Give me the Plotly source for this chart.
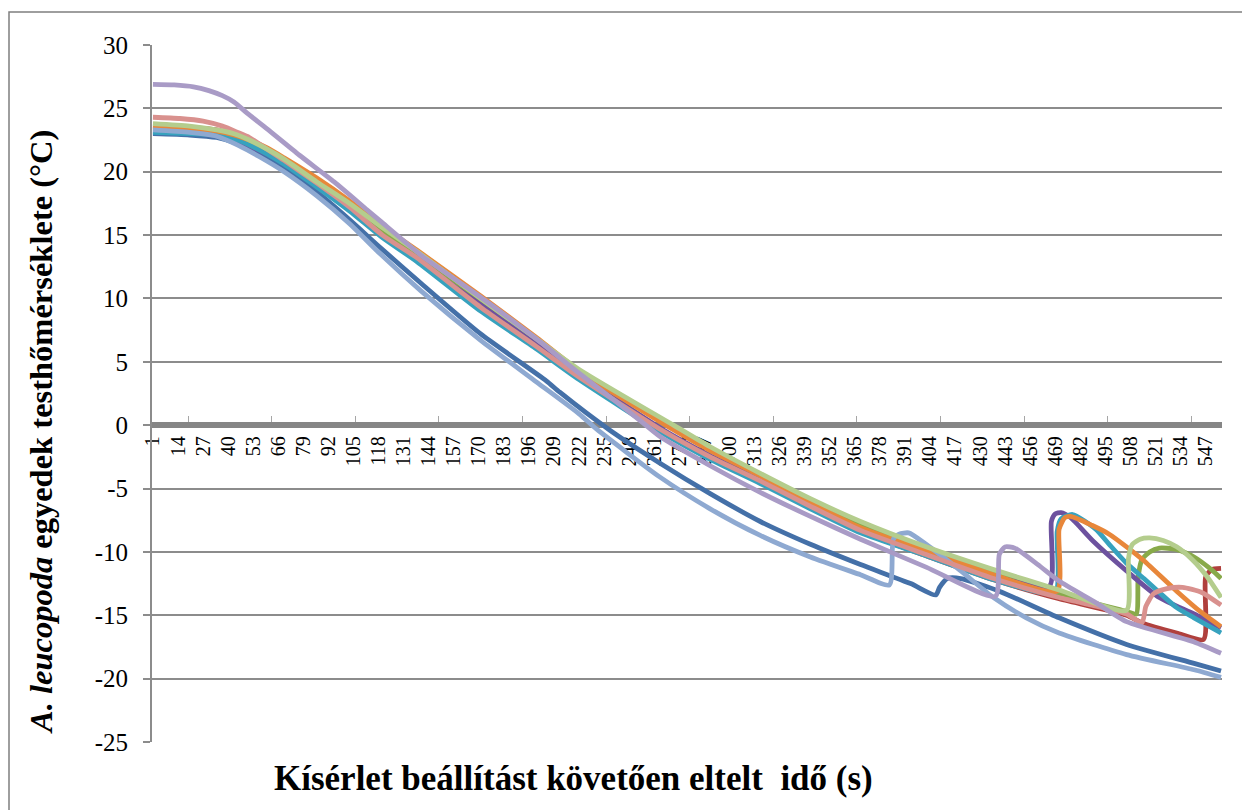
import plotly.graph_objects as go

# category index (s) and body temperature (°C) per individual
blue_x = [1, 20, 34, 45, 56, 69, 86, 103, 119, 140, 171, 205, 212, 238, 264, 290, 316, 342, 368, 394, 407, 409, 413, 420, 440, 471, 506, 541, 555]
blue_y = [23.0, 22.9, 22.7, 22.2, 21.4, 20.3, 18.4, 16.2, 14.0, 11.2, 7.2, 3.5, 2.6, -0.4, -3.0, -5.4, -7.6, -9.4, -11.0, -12.5, -13.4, -12.8, -12.1, -12.1, -13.1, -15.2, -17.3, -18.8, -19.4]

red_x = [1, 20, 34, 43, 51, 60, 69, 86, 103, 120, 138, 171, 200, 222, 265, 290, 316, 342, 368, 402, 437, 471, 506, 514, 532, 546, 547, 550, 555]
red_y = [23.6, 23.5, 23.3, 22.9, 22.4, 21.7, 20.8, 19.0, 17.1, 15.0, 13.1, 9.2, 6.1, 3.7, -0.5, -2.6, -4.5, -6.5, -8.4, -10.3, -12.2, -13.7, -15.0, -15.6, -16.4, -16.9, -12.0, -11.4, -11.3]

green_x = [1, 20, 34, 43, 51, 60, 69, 86, 103, 120, 138, 171, 200, 222, 270, 290, 316, 342, 368, 402, 437, 471, 506, 511, 512, 514, 518, 523, 532, 541, 550, 555]
green_y = [23.4, 23.3, 23.1, 22.8, 22.3, 21.7, 20.9, 19.2, 17.4, 15.4, 13.5, 9.8, 6.7, 4.2, -0.1, -1.9, -4.0, -6.0, -7.9, -9.8, -11.7, -13.3, -14.7, -14.9, -12.0, -10.6, -10.0, -9.7, -9.8, -10.4, -11.4, -12.1]

purple_x = [1, 20, 34, 43, 51, 60, 69, 86, 103, 120, 138, 171, 200, 222, 265, 290, 316, 342, 368, 402, 437, 466, 467, 469, 472, 477, 489, 506, 523, 541, 555]
purple_y = [23.2, 23.1, 22.9, 22.5, 22.0, 21.4, 20.7, 18.9, 17.0, 14.9, 13.0, 9.5, 6.4, 4.0, -0.3, -2.4, -4.3, -6.3, -8.3, -10.1, -11.9, -12.7, -7.6, -7.0, -6.9, -7.3, -9.2, -11.5, -13.6, -14.9, -16.0]

teal_x = [1, 20, 34, 43, 51, 60, 69, 86, 103, 120, 138, 171, 200, 222, 265, 290, 316, 342, 368, 402, 437, 469, 470, 472, 478, 490, 497, 506, 515, 523, 532, 541, 555]
teal_y = [23.1, 23.0, 22.9, 22.6, 22.1, 21.4, 20.6, 18.8, 16.9, 14.8, 12.9, 9.0, 6.0, 3.6, -0.6, -2.7, -4.6, -6.6, -8.5, -10.3, -12.2, -13.2, -8.4, -7.4, -7.05, -8.2, -9.4, -10.9, -12.1, -13.2, -14.4, -15.2, -16.4]

orange_x = [1, 20, 34, 43, 51, 60, 69, 86, 103, 120, 138, 171, 200, 222, 268, 290, 316, 342, 368, 402, 437, 470, 471, 474, 477, 488, 497, 506, 515, 532, 545, 555]
orange_y = [23.5, 23.4, 23.2, 22.9, 22.5, 21.9, 21.1, 19.5, 17.7, 15.7, 13.8, 10.2, 6.9, 4.3, -0.1, -2.0, -4.0, -6.1, -8.1, -9.9, -11.8, -13.1, -8.2, -7.3, -7.2, -7.9, -8.6, -9.6, -10.7, -13.1, -14.8, -15.9]

ltblue_x = [1, 20, 34, 45, 56, 69, 86, 103, 119, 140, 171, 200, 222, 231, 264, 290, 316, 342, 368, 383, 385, 388, 393, 402, 420, 437, 454, 471, 506, 541, 555]
ltblue_y = [23.3, 23.1, 22.8, 22.1, 21.2, 20.0, 18.1, 15.9, 13.5, 10.6, 6.7, 3.4, 0.9, -0.3, -4.1, -6.6, -8.7, -10.4, -11.8, -12.6, -9.0, -8.6, -8.5, -9.4, -11.5, -13.6, -15.2, -16.4, -18.1, -19.3, -19.9]

pink_x = [1, 15, 27, 37, 45, 51, 60, 69, 86, 103, 120, 138, 171, 200, 222, 265, 290, 316, 342, 368, 402, 437, 471, 506, 514, 516, 520, 527, 535, 545, 555]
pink_y = [24.3, 24.2, 24.0, 23.6, 23.1, 22.7, 21.8, 20.9, 19.1, 17.2, 15.0, 13.2, 9.3, 6.2, 3.8, -0.4, -2.5, -4.4, -6.4, -8.3, -10.2, -12.1, -13.6, -14.9, -15.6, -14.3, -13.3, -12.9, -12.8, -13.2, -14.2]

ltgreen_x = [1, 20, 34, 43, 51, 60, 69, 86, 103, 120, 138, 171, 200, 222, 271, 290, 316, 342, 368, 402, 437, 471, 506, 507, 509, 513, 518, 525, 532, 540, 548, 555]
ltgreen_y = [23.8, 23.6, 23.3, 23.0, 22.5, 21.8, 21.0, 19.2, 17.5, 15.6, 13.7, 10.0, 6.8, 4.4, 0.0, -1.7, -3.8, -5.8, -7.6, -9.6, -11.4, -13.0, -14.6, -10.5, -9.4, -9.0, -8.9, -9.1, -9.6, -10.6, -12.0, -13.6]

ltpurple_x = [1, 12, 22, 30, 37, 43, 50, 60, 77, 95, 112, 119, 141, 171, 200, 222, 240, 255, 264, 290, 316, 342, 368, 402, 438, 440, 443, 448, 460, 471, 490, 506, 541, 555]
ltpurple_y = [26.9, 26.85, 26.7, 26.4, 26.0, 25.5, 24.6, 23.4, 21.3, 19.2, 17.0, 16.1, 13.3, 10.1, 6.8, 4.1, 2.0, 0.2, -0.9, -3.2, -5.3, -7.2, -9.0, -11.2, -13.5, -10.2, -9.6, -9.7, -11.0, -12.3, -14.0, -15.5, -17.1, -18.0]

y_ticks = [-25, -20, -15, -10, -5, 0, 5, 10, 15, 20, 25, 30]

series = [
    (blue_x, blue_y, '#4470A8'),
    (red_x, red_y, '#B0403D'),
    (green_x, green_y, '#88AA4A'),
    (purple_x, purple_y, '#6D529F'),
    (teal_x, teal_y, '#37A2BE'),
    (orange_x, orange_y, '#E8873A'),
    (ltblue_x, ltblue_y, '#8EA9D1'),
    (pink_x, pink_y, '#D9918E'),
    (ltgreen_x, ltgreen_y, '#B4CD8D'),
    (ltpurple_x, ltpurple_y, '#A99BC6'),
]

fig = go.Figure()
for xs, ys, col in series:
    fig.add_trace(go.Scatter(x=xs, y=ys, mode='lines',
                             line=dict(color=col, width=4.8, shape='spline', smoothing=0.6),
                             showlegend=False, hoverinfo='skip'))

serif = 'Liberation Serif'

# the page adds an 8px body margin, so margins are trimmed by 8
L, T, PW, PH = 144, 37, 1070, 697

fig.update_layout(
    width=1250, height=810,
    margin=dict(l=L, r=1250 - L - PW, t=T, b=810 - T - PH),
    paper_bgcolor='white', plot_bgcolor='white',
    font=dict(family=serif, color='black'),
    showlegend=False,
)

# category axis sits on y = 0, like the Excel original
fig.update_xaxes(
    range=[0.5, 555.5],
    tickmode='linear', tick0=1, dtick=13,
    ticks='', tickangle=-90,
    tickfont=dict(family=serif, size=20),
    showgrid=False, zeroline=False,
    showline=True, linecolor='#868686', linewidth=6,
    anchor='free', position=25 / 55,
    layer='below traces',
    minor=dict(tickmode='linear', tick0=19.2, dtick=43.36, ticks='inside',
               ticklen=6, tickcolor='#A6A6A6', tickwidth=1, showgrid=False),
)

fig.update_yaxes(
    range=[-25, 30], tickmode='array', tickvals=y_ticks,
    ticktext=[str(v) for v in y_ticks],
    ticks='outside', ticklen=7, tickcolor='#8C8C8C', tickwidth=2,
    tickfont=dict(family=serif, size=25),
    ticklabelstandoff=10,
    showgrid=True, gridcolor='#8C8C8C', gridwidth=2,
    zeroline=False,
    showline=True, linecolor='#8C8C8C', linewidth=2,
)

# outer chart frame
fig.add_shape(type='rect', xref='paper', yref='paper',
              x0=(1 - L) / PW, x1=1.2, y0=-0.2, y1=1 + (T - 4) / PH,
              line=dict(color='#7F7F7F', width=1.5), layer='below')

fig.add_annotation(
    text='<b>Kísérlet beállítást követően eltelt  idő (s)</b>',
    xref='paper', yref='paper', x=(565 - L) / PW, y=-(770 - (T + PH)) / PH,
    xanchor='center', yanchor='middle', showarrow=False,
    font=dict(family=serif, size=35, color='black'),
)
fig.add_annotation(
    text='<b><i>A. leucopoda</i> egyedek testhőmérséklete (°C)</b>',
    xref='paper', yref='paper', x=(33 - L) / PW, y=(T + PH - 424) / PH,
    xanchor='center', yanchor='middle', textangle=-90, showarrow=False,
    font=dict(family=serif, size=32.5, color='black'),
)

fig.write_html('out.html')
